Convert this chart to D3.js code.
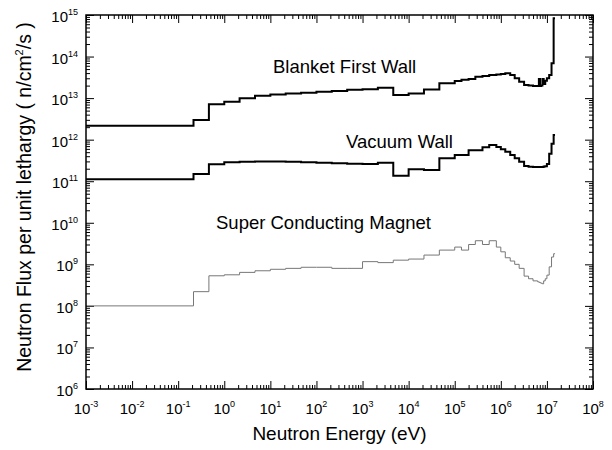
<!DOCTYPE html>
<html>
<head>
<meta charset="utf-8">
<script src="https://cdn.jsdelivr.net/npm/d3@7"></script>
<style>
  body { margin: 0; background: #fff; }
  svg { font-family: "Liberation Sans", Arial, sans-serif; }
  .frame { fill: none; stroke: #000; stroke-width: 1.5; }
  .axis path { display: none; }
  .axis line { stroke: #000; stroke-width: 1; }
</style>
</head>
<body>
<svg id="chart" width="612" height="450"></svg>
<script>
// group boundaries (eV), shared by the three spectra
var energyEdges = [1e-3, 0.215, 0.464, 1, 2.15, 4.64, 10, 21.5, 46.4, 100, 215, 464,
  1e3, 2150, 4640, 1e4, 2.15e4, 4.64e4, 1e5, 1.4e5, 2e5, 2.8e5, 4e5, 5.6e5, 8e5,
  1e6, 1.25e6, 1.6e6, 2e6, 2.5e6, 3.2e6, 4e6, 5e6, 6.3e6, 6.7e6, 7.1e6, 7.5e6,
  8e6, 8.5e6, 9.2e6, 1e7, 1.12e7, 1.26e7, 1.4e7, 1.5e7]

// flux per unit lethargy in each group (n/cm2/s)
var blanketFlux = [2.17e12, 2.97e12, 7.1e12, 8.2e12, 9.9e12, 1.14e13, 1.23e13, 1.30e13,
  1.35e13, 1.42e13, 1.48e13, 1.58e13, 1.64e13, 1.77e13, 1.18e13, 1.30e13, 1.62e13,
  2.27e13, 2.57e13, 2.75e13, 2.9e13, 3.27e13, 3.4e13, 3.59e13, 3.7e13, 3.8e13,
  3.95e13, 3.59e13, 2.99e13, 2.48e13, 2.06e13, 2.0e13, 1.95e13, 1.95e13, 2.9e13,
  1.95e13, 2.0e13, 2.9e13, 2.2e13, 2.6e13, 3.0e13, 3.6e13, 6.9e13, 8.3e14]

var vacuumFlux = [1.11e11, 1.49e11, 2.55e11, 2.85e11, 2.95e11, 2.97e11, 2.97e11, 2.95e11,
  2.87e11, 2.8e11, 2.7e11, 2.65e11, 2.6e11, 2.8e11, 1.36e11, 1.93e11, 1.86e11,
  3.56e11, 4.27e11, 4.27e11, 5.6e11, 5.6e11, 6.6e11, 7.4e11, 6.7e11, 5.85e11,
  5.1e11, 4.27e11, 3.56e11, 2.95e11, 2.32e11, 2.23e11, 2.2e11, 2.2e11, 2.2e11,
  2.2e11, 2.2e11, 2.2e11, 2.25e11, 2.3e11, 2.6e11, 4.6e11, 8e11, 1.29e12]

var magnetFlux = [1.0e8, 2.2e8, 5.3e8, 5.6e8, 6.4e8, 7.0e8, 7.6e8, 8.0e8,
  8.5e8, 8.5e8, 8.0e8, 8.0e8, 1.16e9, 1.1e9, 1.26e9, 1.34e9, 1.67e9,
  2.2e9, 2.6e9, 2.2e9, 3.0e9, 3.7e9, 3.0e9, 3.7e9, 2.6e9, 2.0e9,
  1.44e9, 1.2e9, 1.0e9, 8.0e8, 5.2e8, 4.5e8, 4.0e8, 3.8e8, 3.7e8,
  3.6e8, 3.5e8, 3.4e8, 4.0e8, 4.5e8, 5.5e8, 8.7e8, 1.5e9, 1.8e9]

var xDecades = d3.range(-3, 9)   // 10^-3 .. 10^8
var yDecades = d3.range(6, 16)   // 10^6 .. 10^15

var margin = {top: 15, right: 19, bottom: 61, left: 86}
  , width = 612 - margin.left - margin.right
  , height = 450 - margin.top - margin.bottom

var svg = d3.select('#chart')
var g = svg.append('g').attr('transform', 'translate(' + margin.left + ',' + margin.top + ')')

var x = d3.scaleLog().domain([1e-3, 1e8]).range([0, width])
var y = d3.scaleLog().domain([1e6, 1e15]).range([height, 0])

// major + minor tick values for a log axis
var logTicks = function(decades) {
  var major = decades.map(function(d) { return Math.pow(10, d) })
  var minor = []
  decades.slice(0, -1).forEach(function(d) {
    for (var k = 2; k < 10; k++) minor.push(k * Math.pow(10, d))
  })
  return {major: major, minor: minor}
}
var xt = logTicks(xDecades), yt = logTicks(yDecades)

var addAxis = function(axisFn, scale, values, size, transform) {
  g.append('g').attr('class', 'axis').attr('transform', transform || null)
    .call(axisFn(scale).tickValues(values).tickSize(size).tickFormat(''))
}
addAxis(d3.axisBottom, x, xt.major, -8, 'translate(0,' + height + ')')
addAxis(d3.axisBottom, x, xt.minor, -4, 'translate(0,' + height + ')')
addAxis(d3.axisTop, x, xt.major, -8)
addAxis(d3.axisTop, x, xt.minor, -4)
addAxis(d3.axisLeft, y, yt.major, -8)
addAxis(d3.axisLeft, y, yt.minor, -4)
addAxis(d3.axisRight, y, yt.major, -8, 'translate(' + width + ',0)')
addAxis(d3.axisRight, y, yt.minor, -4, 'translate(' + width + ',0)')

// tick labels 10^n
var xl = g.selectAll('text.xlab').data(xDecades).enter().append('text')
  .attr('class', 'xlab')
  .attr('x', function(d) { return x(Math.pow(10, d)) })
  .attr('y', height + 25)
  .attr('text-anchor', 'middle')
  .style('font-size', '15px')
xl.append('tspan').text('10')
xl.append('tspan').attr('dy', -7).style('font-size', '9px').text(function(d) { return d })

var yl = g.selectAll('text.ylab').data(yDecades).enter().append('text')
  .attr('class', 'ylab')
  .attr('x', -8)
  .attr('y', function(d) { return y(Math.pow(10, d)) + 7 })
  .attr('text-anchor', 'end')
  .style('font-size', '15px')
yl.append('tspan').text('10')
yl.append('tspan').attr('dy', -7).style('font-size', '9px').text(function(d) { return d })

// step curves
var stepLine = d3.line()
  .x(function(d) { return x(d[0]) })
  .y(function(d) { return y(d[1]) })
  .curve(d3.curveStepAfter)

var toPoints = function(flux) {
  var pts = flux.map(function(f, i) { return [energyEdges[i], f] })
  pts.push([energyEdges[flux.length], flux[flux.length - 1]])
  return pts
}

g.append('path').datum(toPoints(magnetFlux))
  .attr('d', stepLine).attr('fill', 'none').attr('stroke', '#777').attr('stroke-width', 1)
g.append('path').datum(toPoints(vacuumFlux))
  .attr('d', stepLine).attr('fill', 'none').attr('stroke', '#000').attr('stroke-width', 2)
g.append('path').datum(toPoints(blanketFlux))
  .attr('d', stepLine).attr('fill', 'none').attr('stroke', '#000').attr('stroke-width', 2)

g.append('rect').attr('class', 'frame').attr('width', width).attr('height', height)

// curve names
var notes = [
  {text: 'Blanket First Wall', x: 273, y: 73},
  {text: 'Vacuum Wall', x: 346, y: 148},
  {text: 'Super Conducting Magnet', x: 216, y: 229}
]
svg.selectAll('text.note').data(notes).enter().append('text')
  .attr('class', 'note')
  .attr('x', function(d) { return d.x })
  .attr('y', function(d) { return d.y })
  .style('font-size', '18.5px')
  .text(function(d) { return d.text })

// axis titles
svg.append('text')
  .attr('x', margin.left + width / 2).attr('y', 440)
  .attr('text-anchor', 'middle').style('font-size', '19px')
  .text('Neutron Energy (eV)')

var yt2 = svg.append('text')
  .attr('transform', 'translate(31,' + (margin.top + height / 2 - 5) + ') rotate(-90)')
  .attr('text-anchor', 'middle').style('font-size', '19.5px')
yt2.append('tspan').text('Neutron Flux per unit lethargy ( n/cm')
yt2.append('tspan').attr('dy', -8).style('font-size', '11px').text('2')
yt2.append('tspan').attr('dy', 8).text('/s )')
</script>
</body>
</html>
